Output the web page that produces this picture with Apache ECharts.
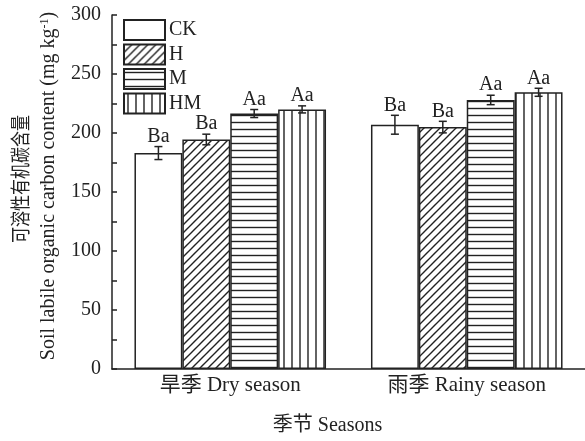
<!DOCTYPE html>
<html><head><meta charset="utf-8">
<script src="https://cdn.jsdelivr.net/npm/echarts@6/dist/echarts.min.js"></script>
<style>html,body{margin:0;padding:0;background:#fff}#c{width:585px;height:441px}</style>
</head><body><div id="c"></div>
<script>
const categories = ['旱季 Dry season', '雨季 Rainy season'];
const seriesNames = ['CK', 'H', 'M', 'HM'];
const valCK = [183, 207];
const valH = [194.5, 205];
const valM = [216.5, 228];
const valHM = [220, 234.5];
const errCK = [5.5, 8];
const errH = [4.5, 4.9];
const errM = [3.4, 4];
const errHM = [3, 3.4];
const sigCK = ['Ba', 'Ba'];
const sigH = ['Ba', 'Ba'];
const sigM = ['Aa', 'Aa'];
const sigHM = ['Aa', 'Aa'];
const yTicks = [0, 50, 100, 150, 200, 250, 300];
const yNameCn = '可溶性有机碳含量';
const yNameEn = 'Soil labile organic carbon content (mg kg';
const yNameSup = '-1';
const xName = '季节 Seasons';

const values = [valCK, valH, valM, valHM];
const errors = [errCK, errH, errM, errHM];
const sigs = [sigCK, sigH, sigM, sigHM];

const FONT = '"Liberation Serif", "Noto Sans CJK SC", serif';
const INK = '#222';

function makePattern(kind) {
  const cv = document.createElement('canvas');
  const w = 8, h = kind === 'hor' ? 7 : 8;
  cv.width = w; cv.height = h;
  const g = cv.getContext('2d');
  g.fillStyle = '#fff'; g.fillRect(0, 0, w, h);
  g.strokeStyle = INK; g.lineWidth = 1.4;
  g.beginPath();
  if (kind === 'diag') {
    g.moveTo(-1, h + 1); g.lineTo(w + 1, -1);
    g.moveTo(-1 - w, h + 1); g.lineTo(1, -1);
    g.moveTo(w - 1, h + 1); g.lineTo(2 * w + 1, -1);
  } else if (kind === 'hor') {
    g.moveTo(0, 3.5); g.lineTo(w, 3.5);
  } else if (kind === 'ver') {
    g.moveTo(4, 0); g.lineTo(4, h);
  }
  g.stroke();
  return cv;
}

const fills = [
  '#ffffff',
  { image: makePattern('diag'), repeat: 'repeat' },
  { image: makePattern('hor'), repeat: 'repeat' },
  { image: makePattern('ver'), repeat: 'repeat' }
];

const GAP = 0.19;
const chart = echarts.init(document.getElementById('c'), null, { renderer: 'canvas' });

const series = seriesNames.map((n, i) => ({
  name: n,
  type: 'bar',
  data: values[i],
  barGap: '0%',
  barCategoryGap: (GAP * 100) + '%',
  itemStyle: { color: fills[i], borderColor: INK, borderWidth: 1.5 },
  emphasis: { disabled: true },
  animation: false
}));

const errData = [];
seriesNames.forEach((n, i) => {
  categories.forEach((c, j) => {
    errData.push([j, values[i][j], errors[i][j], i, sigs[i][j]]);
  });
});

series.push({
  type: 'custom',
  name: 'err',
  data: errData,
  z: 10,
  animation: false,
  renderItem: function (params, api) {
    const j = api.value(0), v = api.value(1), e = api.value(2), i = api.value(3);
    const d = errData[params.dataIndex];
    const c = api.coord([j, v]);
    const band = api.size([1, 0])[0];
    const bw = band * (1 - GAP) / 4;
    const x = c[0] + (i - 1.5) * bw;
    const yt = api.coord([j, v + e])[1];
    const yb = api.coord([j, v - e])[1];
    const cap = 4;
    const st = { stroke: INK, lineWidth: 1.5 };
    return {
      type: 'group',
      children: [
        { type: 'line', shape: { x1: x, y1: yt, x2: x, y2: yb }, style: st },
        { type: 'line', shape: { x1: x - cap, y1: yt, x2: x + cap, y2: yt }, style: st },
        { type: 'line', shape: { x1: x - cap, y1: yb, x2: x + cap, y2: yb }, style: st },
        { type: 'text', x: x, y: yt, style: { text: d[4], fill: INK, font: '20px ' + FONT, textAlign: 'center', textVerticalAlign: 'bottom' } }
      ]
    };
  }
});

chart.setOption({
  animation: false,
  backgroundColor: '#fff',
  grid: { left: 112, top: 15, width: 476, height: 357, containLabel: false },
  legend: {
    data: seriesNames.map(n => ({ name: n, icon: 'rect' })),
    orient: 'vertical',
    left: 123, top: 19, padding: 0,
    itemWidth: 41, itemHeight: 20, itemGap: 2.5,
    textStyle: { fontFamily: FONT, fontSize: 20, color: INK, lineHeight: 20, padding: [0, 0, 0, -1] },
    selectedMode: false
  },
  graphic: [
    {
      type: 'text', x: 22.5, y: 179, rotation: Math.PI / 2, scaleX: 0.8,
      style: { text: yNameCn, fill: INK, font: '20px ' + FONT, textAlign: 'center', textVerticalAlign: 'middle' }
    },
    {
      type: 'text', x: 49, y: 186, rotation: Math.PI / 2,
      style: {
        text: '{en|' + yNameEn + '}{sup|' + yNameSup + '}{en|)}',
        textAlign: 'center', textVerticalAlign: 'middle',
        rich: {
          en: { fontFamily: FONT, fontSize: 20, fill: INK, lineHeight: 24 },
          sup: { fontFamily: FONT, fontSize: 12, fill: INK, lineHeight: 24, verticalAlign: 'top', padding: [2, 0, 0, 0] }
        }
      }
    }
  ],
  xAxis: {
    type: 'category',
    data: categories,
    axisLine: { lineStyle: { color: INK, width: 1.5 } },
    axisTick: { inside: true, length: 5, interval: 0, lineStyle: { color: INK, width: 1.5 } },
    axisLabel: { fontFamily: FONT, fontSize: 21, color: INK, margin: 6, interval: 0 },
    name: xName,
    nameLocation: 'middle',
    nameGap: 47,
    nameTextStyle: { fontFamily: FONT, fontSize: 20, color: INK, padding: [0, 42, 0, 0] }
  },
  yAxis: {
    type: 'value',
    min: 0, max: 300, interval: 50,
    axisLine: { show: true, lineStyle: { color: INK, width: 1.5 } },
    axisTick: { show: true, inside: true, length: 5, lineStyle: { color: INK, width: 1.5 } },
    minorTick: { show: true, splitNumber: 2, length: 5, lineStyle: { color: INK, width: 1.5 } },
    splitLine: { show: false },
    axisLabel: { fontFamily: FONT, fontSize: 20, color: INK, margin: 11,
      formatter: v => yTicks.indexOf(v) >= 0 ? String(v) : '' }
  },
  series: series
});
</script></body></html>
